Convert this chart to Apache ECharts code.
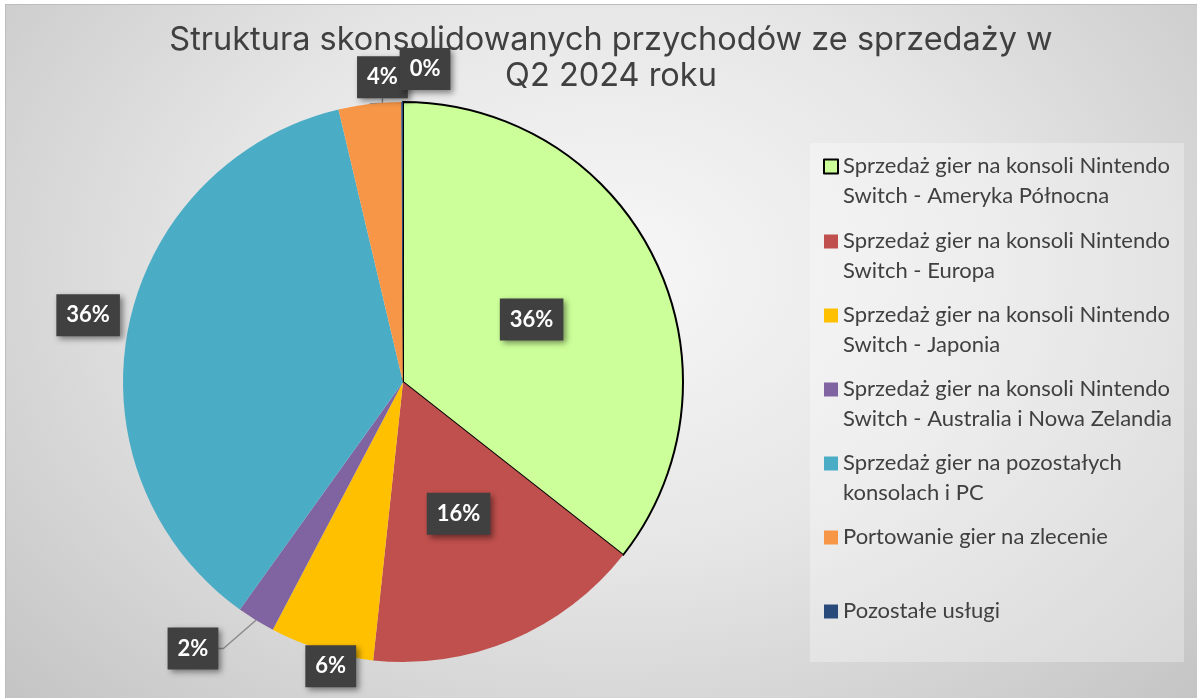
<!DOCTYPE html>
<html><head><meta charset="utf-8">
<script src="https://cdn.jsdelivr.net/npm/echarts@6/dist/echarts.min.js"></script>
<style>
html,body{margin:0;padding:0;background:#fff;width:1197px;height:698px;overflow:hidden}
#bg{position:absolute;left:5px;top:4px;width:1200px;height:700px;border:1px solid #bdbdbd;
background:radial-gradient(ellipse 70% 90% at 50% 38%, #f7f7f7 0%, #e6e6e6 45%, #c3c3c3 100%);}
#chart{position:absolute;left:0;top:0;width:1197px;height:698px}
</style></head>
<body>
<div id="bg"></div>
<div id="chart"></div>
<script>
const categories = [
  'Sprzedaż gier na konsoli Nintendo Switch - Ameryka Północna',
  'Sprzedaż gier na konsoli Nintendo Switch - Europa',
  'Sprzedaż gier na konsoli Nintendo Switch - Japonia',
  'Sprzedaż gier na konsoli Nintendo Switch - Australia i Nowa Zelandia',
  'Sprzedaż gier na pozostałych konsolach i PC',
  'Portowanie gier na zlecenie',
  'Pozostałe usługi'
];
const values = [35.6, 16.1, 6.0, 2.2, 36.4, 3.6, 0.1];
const colors = ['#ccff99', '#c0504d', '#ffc000', '#8064a2', '#4bacc6', '#f79646', '#284a7b'];
const titleLines = ['Struktura skonsolidowanych przychodów ze sprzedaży w', 'Q2 2024 roku'];

// label placement (layout only)
const labelRadius = [null, null, 293, 339, 324, 307, 311];
const labelShiftX = [0, 0, 13, -32, 3, 16, 23];
const labelShiftY = [0, 0, 4, -22, -4, 0, -2];
const cx = 403, cy = 382, R0 = 280;

const total = values.reduce((a, b) => a + b, 0);
const starts = [];
values.reduce((acc, v) => { starts.push(acc); return acc + v; }, 0);

const legendIcon = 'path://M0,8.5L14,8.5L14,22.5L0,22.5Z M0,0 M14,60';
const legendWrap = 345;
const measureCtx = document.createElement('canvas').getContext('2d');
measureCtx.font = '22px Lato';
function wrapName(name) {
  const words = name.split(' ');
  const lines = [];
  let cur = '';
  words.forEach(w => {
    const test = cur ? cur + ' ' + w : w;
    if (cur && measureCtx.measureText(test).width > legendWrap) { lines.push(cur); cur = w; }
    else cur = test;
  });
  if (cur) lines.push(cur);
  if (lines.length === 1) lines.push(' ');
  return lines.join('\n');
}

const chart = echarts.init(document.getElementById('chart'), null, {renderer: 'canvas'});
chart.setOption({
  backgroundColor: 'transparent',
  animation: false,
  graphic: [
    {type: 'rect', z: 0, shape: {x: 810, y: 143, width: 374, height: 519},
     style: {fill: 'rgba(255,255,255,0.3)'}},
    {type: 'text', z: 5, x: 611, y: 22,
     style: {text: titleLines.join('\n'), fontFamily: 'Inter', fontSize: 32.5, fill: '#404040',
             align: 'center', verticalAlign: 'top', lineHeight: 36}}
  ],
  legend: {
    orient: 'vertical', left: 823, top: 150, itemWidth: 14, itemHeight: 60, itemGap: 14,
    icon: legendIcon, selectedMode: false, padding: 0,
    formatter: wrapName,
    textStyle: {fontFamily: 'Lato', fontSize: 22, color: '#404040', lineHeight: 30},
    data: categories
  },
  series: [{
    type: 'pie',
    center: [cx, cy],
    radius: R0,
    startAngle: 90,
    clockwise: true,
    percentPrecision: 0,
    avoidLabelOverlap: false,
    emphasis: {disabled: true},
    itemStyle: {borderWidth: 0},
    label: {
      show: true, position: 'outside', formatter: '{d}%',
      color: '#ffffff', fontFamily: 'Lato', fontWeight: 'bold', fontSize: 22, lineHeight: 24,
      backgroundColor: '#404040', padding: [9, 10],
      shadowBlur: 6, shadowColor: 'rgba(0,0,0,0.45)', shadowOffsetX: 3, shadowOffsetY: 3
    },
    labelLine: {show: false, length: 10, length2: 5, lineStyle: {color: '#8c8c8c', width: 1.5}},
    labelLayout: function (params) {
      const i = params.dataIndex;
      const R = labelRadius[i];
      if (R == null) return {};
      const th = (starts[i] + values[i] / 2) / total * Math.PI * 2;
      return {
        x: cx + R * Math.sin(th) + labelShiftX[i],
        y: cy - R * Math.cos(th) + labelShiftY[i],
        align: 'center', verticalAlign: 'middle'
      };
    },
    data: categories.map((name, i) => {
      const d = {name: name, value: values[i], itemStyle: {color: colors[i]}};
      if (i === 0) { d.itemStyle.borderColor = '#000000'; d.itemStyle.borderWidth = 2; }
      if (i <= 1) d.label = {position: 'inside'};
      if (i === 3 || i === 5) d.labelLine = {show: true};
      return d;
    })
  }]
});
</script>
</body></html>
